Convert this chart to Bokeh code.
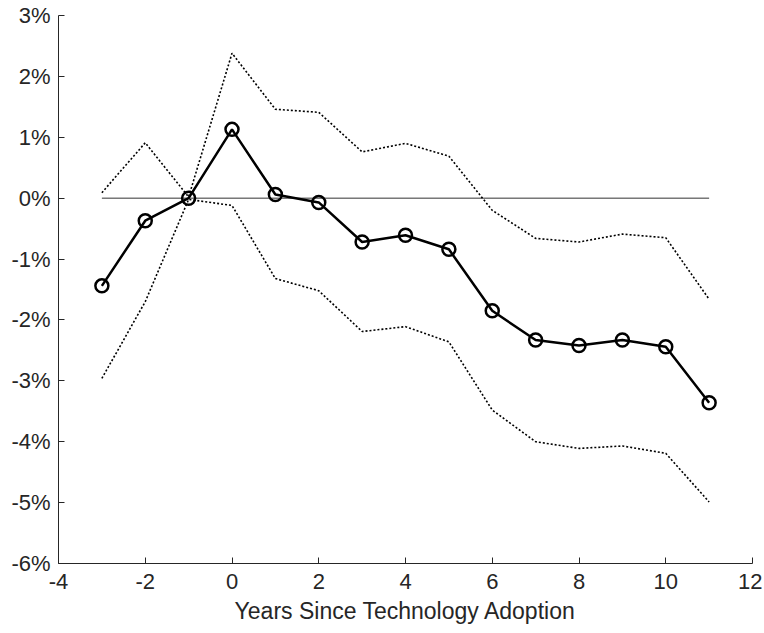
from bokeh.plotting import figure
from bokeh.models import FixedTicker, PrintfTickFormatter, Range1d
from bokeh.embed import file_html
from bokeh.resources import INLINE

years = [-3, -2, -1, 0, 1, 2, 3, 4, 5, 6, 7, 8, 9, 10, 11]
estimate = [-1.44, -0.37, 0.0, 1.13, 0.06, -0.07, -0.72, -0.61, -0.84, -1.85, -2.33, -2.42, -2.33, -2.44, -3.36]
upper = [0.09, 0.91, 0.02, 2.38, 1.46, 1.41, 0.76, 0.90, 0.69, -0.20, -0.66, -0.72, -0.59, -0.65, -1.66]
lower = [-2.96, -1.70, -0.02, -0.12, -1.32, -1.52, -2.19, -2.11, -2.36, -3.48, -4.00, -4.11, -4.07, -4.19, -4.99]
zero_x = [-3, 11]
zero_y = [0, 0]
x_ticks = [-4, -2, 0, 2, 4, 6, 8, 10, 12]
y_ticks = [-6, -5, -4, -3, -2, -1, 0, 1, 2, 3]

p = figure(width=762, height=630, output_backend="svg", toolbar_location=None,
           x_range=Range1d(-4, 12), y_range=Range1d(-6, 3),
           min_border_left=58, min_border_right=10, min_border_top=15, min_border_bottom=67)
p.outline_line_color = None
p.xgrid.visible = False
p.ygrid.visible = False

axis_color = "#262626"
font = "Liberation Sans"
for ax in (p.xaxis[0], p.yaxis[0]):
    ax.axis_line_color = axis_color
    ax.axis_line_width = 1
    ax.major_tick_in = 6
    ax.major_tick_out = 0
    ax.major_tick_line_color = axis_color
    ax.minor_tick_line_color = None
    ax.major_label_text_color = axis_color
    ax.major_label_text_font = font
    ax.major_label_text_font_size = "22px"

p.xaxis.ticker = FixedTicker(ticks=x_ticks)
p.yaxis.ticker = FixedTicker(ticks=y_ticks)
p.xaxis.formatter = PrintfTickFormatter(format="%d")
p.yaxis.formatter = PrintfTickFormatter(format="%d%%")
p.xaxis.major_label_standoff = 10
p.yaxis.major_label_standoff = 8
p.xaxis.axis_label = "Years Since Technology Adoption"
p.xaxis.axis_label_text_font = font
p.xaxis.axis_label_text_font_style = "normal"
p.xaxis.axis_label_text_font_size = "23px"
p.xaxis.axis_label_text_color = axis_color
p.xaxis.axis_label_standoff = 6

p.line(zero_x, zero_y, line_color="#333333", line_width=1)
p.line(years, upper, line_color="black", line_width=1.6, line_dash="2 2")
p.line(years, lower, line_color="black", line_width=1.6, line_dash="2 2")
p.line(years, estimate, line_color="black", line_width=2.5)
p.scatter(years, estimate, marker="circle", size=13, fill_color=None,
          line_color="black", line_width=2.5)

open("out.html", "w").write(file_html(p, INLINE))
